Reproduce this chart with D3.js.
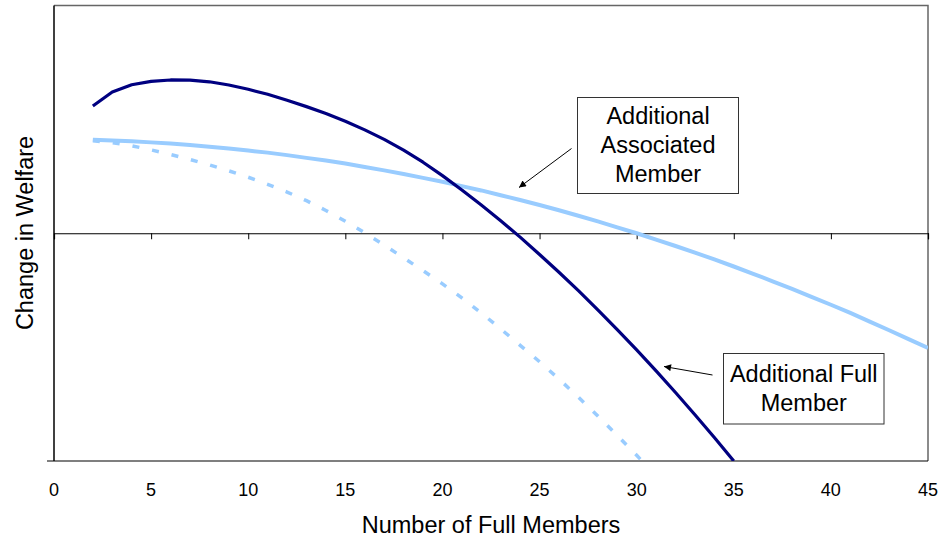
<!DOCTYPE html>
<html>
<head>
<meta charset="utf-8">
<script src="https://cdn.jsdelivr.net/npm/d3@7"></script>
<style>
  body { margin: 0; background: #fff; }
  text { font-family: "Liberation Sans", Arial, sans-serif; fill: #000; }
</style>
</head>
<body>
<svg id="chart" width="940" height="539"></svg>
<script>
// number of full members (x) and change in welfare (y)
var fullX = [2, 3, 4, 5, 6, 7, 8, 9, 10, 11, 12, 13, 14, 15, 16, 17, 18, 19, 20,
    21, 22, 23, 24, 25, 26, 27, 28, 29, 30, 31, 32, 33, 34, 35];
var fullY = [0.559, 0.620, 0.652, 0.667, 0.673, 0.672, 0.665, 0.651, 0.632, 0.610,
    0.584, 0.556, 0.526, 0.492, 0.454, 0.412, 0.365, 0.312, 0.253, 0.190,
    0.124, 0.055, -0.017, -0.093, -0.171, -0.252, -0.336, -0.423, -0.512, -0.604,
    -0.699, -0.797, -0.897, -1.0];

var assocX = [2, 3, 4, 5, 6, 7, 8, 9, 10, 11, 12, 13, 14, 15, 16, 17, 18, 19, 20,
    21, 22, 23, 24, 25, 26, 27, 28, 29, 30, 31, 32, 33, 34, 35, 36, 37, 38, 39, 40,
    41, 42, 43, 44, 45];
var assocY = [0.410, 0.407, 0.404, 0.399, 0.394, 0.387, 0.380, 0.372, 0.363, 0.354,
    0.343, 0.331, 0.319, 0.306, 0.291, 0.276, 0.260, 0.243, 0.226, 0.207,
    0.188, 0.167, 0.146, 0.124, 0.101, 0.077, 0.052, 0.026, 0.0, -0.028,
    -0.056, -0.085, -0.115, -0.146, -0.178, -0.211, -0.244, -0.279, -0.314, -0.350,
    -0.388, -0.426, -0.465, -0.504];

var dashX = [2, 3, 4, 5, 6, 7, 8, 9, 10, 11, 12, 13, 14, 15, 16, 17, 18, 19, 20,
    21, 22, 23, 24, 25, 26, 27, 28, 29, 30, 31];
var dashY = [0.406, 0.398, 0.384, 0.366, 0.346, 0.324, 0.300, 0.274, 0.246, 0.215,
    0.181, 0.143, 0.100, 0.053, 0.002, -0.052, -0.108, -0.164, -0.222, -0.284,
    -0.350, -0.420, -0.492, -0.564, -0.640, -0.720, -0.802, -0.888, -0.975, -1.065];

var xTicks = [0, 5, 10, 15, 20, 25, 30, 35, 40, 45];

var svg = d3.select("#chart");
var plotLeft = 54, plotRight = 928, plotTop = 5.5, plotBottom = 461;

var x = d3.scaleLinear().domain([0, 45]).range([plotLeft, plotRight]);
var y = d3.scaleLinear().domain([-1, 1]).range([plotBottom, plotTop]);

// plot frame: grey top/right, black left/bottom
svg.append("path")
    .attr("d", "M" + plotLeft + "," + plotTop + "H" + plotRight + "V" + plotBottom)
    .attr("fill", "none")
    .attr("stroke", "#666")
    .attr("stroke-width", 1.5);
svg.append("line")
    .attr("x1", plotLeft - 7).attr("x2", plotRight)
    .attr("y1", plotBottom).attr("y2", plotBottom)
    .attr("stroke", "#000").attr("stroke-width", 1.2);
svg.append("line")
    .attr("x1", plotLeft).attr("x2", plotLeft)
    .attr("y1", plotTop).attr("y2", plotBottom)
    .attr("stroke", "#000").attr("stroke-width", 1.5);

// x axis sits on the zero line, labels at the bottom
var xAxis = svg.append("g")
    .attr("transform", "translate(0," + y(0) + ")")
    .call(d3.axisBottom(x).tickValues(xTicks).tickSize(6).tickFormat(""));
xAxis.select(".domain").attr("stroke", "#000").attr("stroke-width", 1.2);
xAxis.selectAll(".tick line").attr("stroke", "#000");

svg.append("g").selectAll("text")
    .data(xTicks).enter().append("text")
    .attr("x", function(d) { return x(d); })
    .attr("y", 496)
    .attr("text-anchor", "middle")
    .style("font-size", "18px")
    .text(function(d) { return d; });

svg.append("text")
    .attr("x", (plotLeft + plotRight) / 2)
    .attr("y", 533)
    .attr("text-anchor", "middle")
    .style("font-size", "23.5px")
    .text("Number of Full Members");

svg.append("text")
    .attr("transform", "translate(33,233) rotate(-90)")
    .attr("text-anchor", "middle")
    .style("font-size", "23.5px")
    .text("Change in Welfare");

// clip lines to the plot area
svg.append("clipPath").attr("id", "plotClip")
    .append("rect")
    .attr("x", plotLeft).attr("y", plotTop)
    .attr("width", plotRight - plotLeft).attr("height", plotBottom - plotTop);

var line = d3.line()
    .x(function(d) { return x(d[0]); })
    .y(function(d) { return y(d[1]); });

var lines = svg.append("g").attr("clip-path", "url(#plotClip)");

lines.append("path")
    .datum(d3.zip(dashX, dashY))
    .attr("d", line)
    .attr("fill", "none")
    .attr("stroke", "#99CCFF")
    .attr("stroke-width", 3.5)
    .attr("stroke-dasharray", "7,13");

lines.append("path")
    .datum(d3.zip(assocX, assocY))
    .attr("d", line)
    .attr("fill", "none")
    .attr("stroke", "#99CCFF")
    .attr("stroke-width", 4);

lines.append("path")
    .datum(d3.zip(fullX, fullY))
    .attr("d", line)
    .attr("fill", "none")
    .attr("stroke", "#000080")
    .attr("stroke-width", 3.2)
    .attr("stroke-linejoin", "round");

// arrows and callout boxes
svg.append("defs").append("marker")
    .attr("id", "arrow")
    .attr("viewBox", "0 0 10 10")
    .attr("refX", 10).attr("refY", 5)
    .attr("markerWidth", 9).attr("markerHeight", 7)
    .attr("markerUnits", "userSpaceOnUse")
    .attr("orient", "auto")
    .append("path")
    .attr("d", "M0,0L10,5L0,10Z")
    .attr("fill", "#000");

function callout(box, textLines, baseY, from, to) {
    svg.append("line")
        .attr("x1", from[0]).attr("y1", from[1])
        .attr("x2", to[0]).attr("y2", to[1])
        .attr("stroke", "#000").attr("stroke-width", 1)
        .attr("marker-end", "url(#arrow)");
    svg.append("rect")
        .attr("x", box[0]).attr("y", box[1])
        .attr("width", box[2]).attr("height", box[3])
        .attr("fill", "#fff")
        .attr("stroke", "#333").attr("stroke-width", 1);
    svg.append("g").selectAll("text")
        .data(textLines).enter().append("text")
        .attr("x", box[0] + box[2] / 2)
        .attr("y", function(d, i) { return baseY + i * 29; })
        .attr("text-anchor", "middle")
        .style("font-size", "23.5px")
        .text(function(d) { return d; });
}

callout([577.5, 97.5, 161, 96], ["Additional", "Associated", "Member"], 124,
    [571.5, 148.5], [519, 187.5]);
callout([723.5, 353.5, 160.5, 70.5], ["Additional Full", "Member"], 382,
    [712.5, 375], [664, 366.5]);
</script>
</body>
</html>
